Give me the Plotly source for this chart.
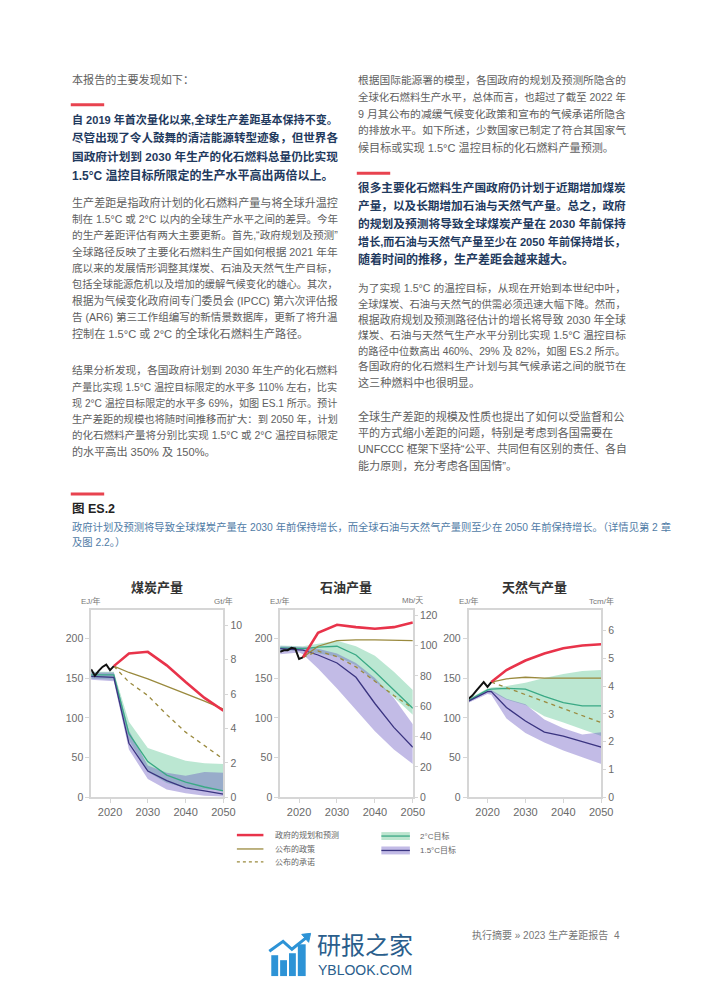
import plotly.graph_objects as go

W, H = 702, 991

# ---------------- DATA ----------------
hist_years = [2015, 2016, 2017, 2018, 2019, 2020, 2021]
plan_years = [2021, 2025, 2030, 2035, 2040, 2045, 2050]
band_years = [2015, 2020, 2021, 2025, 2030, 2035, 2040, 2045, 2050]

# Coal (EJ/yr)
coal_hist = [161, 153, 159, 164, 167, 160, 165]
coal_plans = [165, 181, 183, 166, 145, 125, 109]
coal_policy = [165, 157, 149, 140, 130, 121, 111]
coal_pledges = [165, 145, 128, 104, 82, 65, 48]
coal_2c_hi = [158, 158, 158, 95, 62, 54, 46, 43, 42]
coal_2c_lo = [149, 148, 148, 72, 32, 18, 12, 10, 9]
coal_2c_med = [154, 154, 154, 80, 45, 28, 19, 13, 8]
coal_15_hi = [157, 157, 157, 84, 40, 31, 27, 32, 31]
coal_15_lo = [148, 146, 146, 60, 23, 10, 5, 2, 1]
coal_15_med = [152, 151, 151, 68, 33, 21, 12, 8, 4]

# Oil (EJ/yr)
oil_hist = [183, 185, 185, 188, 187, 174, 176]
oil_plans = [176, 207, 217, 214, 212, 214, 220]
oil_policy = [176, 190, 197, 198, 198, 197.5, 197]
oil_pledges = [176, 184, 177, 164, 146, 128, 112]
oil_2c_hi = [191, 190, 190, 193, 197, 190, 178, 158, 135]
oil_2c_lo = [184, 185, 185, 181, 177, 166, 146, 126, 104]
oil_2c_med = [188, 187, 187, 189, 190, 179, 158, 135, 112]
oil_15_hi = [190, 189, 189, 187, 181, 169, 150, 125, 92]
oil_15_lo = [180, 182, 180, 162, 137, 110, 83, 60, 42]
oil_15_med = [187, 186, 185, 179, 169, 151, 118, 88, 63]

# Gas (EJ/yr)
gas_hist = [124, 128, 134, 139, 145, 139, 145]
gas_plans = [145, 160, 172, 181, 187.5, 191, 192.5]
gas_policy = [145, 149, 151, 150, 150, 150, 150]
gas_pledges = [145, 138, 129, 120, 111, 103, 94]
gas_2c_hi = [124, 137, 138, 140, 144, 150, 155, 159, 160]
gas_2c_lo = [120, 133, 133, 123, 116, 102, 94, 85, 77]
gas_2c_med = [122, 135, 136, 137, 136, 127, 119, 115, 115]
gas_15_hi = [122, 135, 135, 124, 117, 98, 87, 79, 82]
gas_15_lo = [119, 130, 129, 99, 81, 69, 59, 50, 42]
gas_15_med = [121, 133, 133, 113, 96, 82, 77, 70, 63]

x_ticks = [2020, 2030, 2040, 2050]
ej_ticks = [0, 50, 100, 150, 200]
coal_r_ticks = [0, 2, 4, 6, 8, 10]
oil_r_ticks = [0, 20, 40, 60, 80, 100, 120]
gas_r_ticks = [0, 1, 2, 3, 4, 5, 6]

chart_titles = ["煤炭产量", "石油产量", "天然气产量"]
left_units = ["EJ/年", "EJ/年", "EJ/年"]
right_units = ["Gt/年", "Mb/天", "Tcm/年"]
legend_labels = ["政府的规划和预测", "公布的政策", "公布的承诺", "2°C目标", "1.5°C目标"]

# ---------------- STYLE ----------------
FONT = "Liberation Sans, Noto Sans CJK SC"
RED = "#e8334a"
OLIVE = "#9a8a3e"
GREEN_FILL = "rgba(60,185,125,0.35)"
GREEN_LINE = "#3aa985"
PURPLE_FILL = "rgba(95,75,190,0.38)"
PURPLE_LINE = "#3a3480"
BODY = "#5e5e5e"
NAVY = "#1f3a5e"
AXC = "#d6d6d6"
TICKC = "#6a6a6a"

fig = go.Figure()

charts = [
    dict(x="x", y="y", y2="y2", hist=coal_hist, plans=coal_plans, policy=coal_policy, pledges=coal_pledges,
         g_hi=coal_2c_hi, g_lo=coal_2c_lo, g_med=coal_2c_med, p_hi=coal_15_hi, p_lo=coal_15_lo, p_med=coal_15_med),
    dict(x="x2", y="y3", y2="y4", hist=oil_hist, plans=oil_plans, policy=oil_policy, pledges=oil_pledges,
         g_hi=oil_2c_hi, g_lo=oil_2c_lo, g_med=oil_2c_med, p_hi=oil_15_hi, p_lo=oil_15_lo, p_med=oil_15_med),
    dict(x="x3", y="y5", y2="y6", hist=gas_hist, plans=gas_plans, policy=gas_policy, pledges=gas_pledges,
         g_hi=gas_2c_hi, g_lo=gas_2c_lo, g_med=gas_2c_med, p_hi=gas_15_hi, p_lo=gas_15_lo, p_med=gas_15_med),
]

for c in charts:
    ax = dict(xaxis=c["x"], yaxis=c["y"], hoverinfo="skip", showlegend=False)
    fig.add_trace(go.Scatter(x=band_years, y=c["g_lo"], mode="lines", line=dict(width=0, color=GREEN_FILL), **ax))
    fig.add_trace(go.Scatter(x=band_years, y=c["g_hi"], mode="lines", line=dict(width=0, color=GREEN_FILL),
                             fill="tonexty", fillcolor=GREEN_FILL, **ax))
    fig.add_trace(go.Scatter(x=band_years, y=c["p_lo"], mode="lines", line=dict(width=0, color=PURPLE_FILL), **ax))
    fig.add_trace(go.Scatter(x=band_years, y=c["p_hi"], mode="lines", line=dict(width=0, color=PURPLE_FILL),
                             fill="tonexty", fillcolor=PURPLE_FILL, **ax))
    fig.add_trace(go.Scatter(x=band_years, y=c["g_med"], mode="lines", line=dict(width=1.3, color=GREEN_LINE), **ax))
    fig.add_trace(go.Scatter(x=band_years, y=c["p_med"], mode="lines", line=dict(width=1.3, color=PURPLE_LINE), **ax))
    fig.add_trace(go.Scatter(x=plan_years, y=c["pledges"], mode="lines",
                             line=dict(width=1.3, color=OLIVE, dash="4px,4px"), **ax))
    fig.add_trace(go.Scatter(x=plan_years, y=c["policy"], mode="lines", line=dict(width=1.3, color=OLIVE), **ax))
    fig.add_trace(go.Scatter(x=plan_years, y=c["plans"], mode="lines", line=dict(width=2.6, color=RED), **ax))
    fig.add_trace(go.Scatter(x=hist_years, y=c["hist"], mode="lines", line=dict(width=2, color="#111111"), **ax))
    # empty trace so the secondary (right-hand unit) axis is drawn
    fig.add_trace(go.Scatter(x=[], y=[], xaxis=c["x"], yaxis=c["y2"], mode="lines", hoverinfo="skip",
                             showlegend=False))

# geometry (page pixels)
plot_top, plot_bot = 613, 802
x_doms = [(92.7, 227.3), (285.0, 420.0), (476.7, 611.7)]


def px(x):
    return x / W


def py(y):
    return 1 - y / H


ydom = [py(plot_bot), py(plot_top)]
common_x = dict(range=[2015, 2050], tickvals=x_ticks, showline=True, linecolor=AXC, linewidth=1.5, mirror=True,
                ticks="outside", ticklen=4, tickcolor=AXC, tickfont=dict(size=11, color=TICKC, family=FONT),
                showgrid=False, zeroline=False, fixedrange=True)
common_y = dict(tickvals=ej_ticks, showline=True, linecolor=AXC, linewidth=1.5, mirror=True,
                ticks="outside", ticklen=4, tickcolor=AXC, tickfont=dict(size=10.5, color=TICKC, family=FONT),
                showgrid=False, zeroline=False, range=[0, 236])
common_r = dict(side="right", showline=False, ticks="outside", ticklen=4, tickcolor=AXC,
                tickfont=dict(size=10.5, color=TICKC, family=FONT), showgrid=False, zeroline=False)

layout = dict(
    width=W, height=H, margin=dict(l=0, r=0, t=0, b=0), paper_bgcolor="white", plot_bgcolor="rgba(0,0,0,0)",
    font=dict(family=FONT), showlegend=False,
    xaxis=dict(domain=[px(x_doms[0][0]), px(x_doms[0][1])], anchor="y", **common_x),
    yaxis=dict(domain=ydom, anchor="x", **common_y),
    yaxis2=dict(overlaying="y", anchor="x", range=[0, 10.9], tickvals=coal_r_ticks, **common_r),
    xaxis2=dict(domain=[px(x_doms[1][0]), px(x_doms[1][1])], anchor="y3", **common_x),
    yaxis3=dict(domain=ydom, anchor="x2", **common_y),
    yaxis4=dict(overlaying="y3", anchor="x2", range=[0, 123.7], tickvals=oil_r_ticks, **common_r),
    xaxis3=dict(domain=[px(x_doms[2][0]), px(x_doms[2][1])], anchor="y5", **common_x),
    yaxis5=dict(domain=ydom, anchor="x3", **common_y),
    yaxis6=dict(overlaying="y5", anchor="x3", range=[0, 6.75], tickvals=gas_r_ticks, **common_r),
)
fig.update_layout(**layout)

ann = []
shapes = []

# approximate advance widths (em) for Liberation Sans; CJK glyphs are 1 em
LAT_W = {" ": 0.278, ".": 0.278, ",": 0.278, ":": 0.278, "°": 0.4, "%": 0.889, "(": 0.333, ")": 0.333,
         "“": 0.333, "”": 0.333, "I": 0.278, "F": 0.611}


def em_width(s):
    w = 0.0
    for ch in s:
        if ch in LAT_W:
            w += LAT_W[ch]
        elif ch.isdigit():
            w += 0.556
        elif ord(ch) > 0x2000:
            w += 1.0
        elif ch.isupper():
            w += 0.70
        else:
            w += 0.52
    return w


def txt(x, y, s, size, color, bold=False, anchor="left"):
    if bold:
        s = "<b>" + s + "</b>"
    ann.append(dict(x=px(x), y=py(y), xref="paper", yref="paper", text=s, showarrow=False,
                    xanchor=anchor, yanchor="middle", font=dict(size=size, color=color, family=FONT)))


def block(x, y0, lines, size, color, spacing, bold=False, width=266):
    for i, s in enumerate(lines):
        fit = min(size, width / em_width(s))
        txt(x, y0 + i * spacing, s, round(fit, 2), color, bold)


def rect(x0, y0, x1, y1, color):
    shapes.append(dict(type="rect", xref="paper", yref="paper", x0=px(x0), x1=px(x1), y0=py(y1), y1=py(y0),
                       fillcolor=color, line=dict(width=0), layer="above"))


def hline(x0, x1, y, color, width, dash=None):
    shapes.append(dict(type="line", xref="paper", yref="paper", x0=px(x0), x1=px(x1), y0=py(y), y1=py(y),
                       line=dict(color=color, width=width, dash=dash), layer="above"))


# ---------------- TEXT: left column ----------------
LX, RX = 71, 362
BODY_SIZE, BOLD_SIZE = 11.1, 12

txt(LX, 79, "本报告的主要发现如下：", BODY_SIZE, BODY)
rect(72, 103, 106, 106, "#e8434f")
block(LX, 119, [
    "自 2019 年首次量化以来,全球生产差距基本保持不变。",
    "尽管出现了令人鼓舞的清洁能源转型迹象，但世界各",
    "国政府计划到 2030 年生产的化石燃料总量仍比实现",
    "1.5°C 温控目标所限定的生产水平高出两倍以上。",
], BOLD_SIZE, NAVY, 18.8, bold=True)
block(LX, 203, [
    "生产差距是指政府计划的化石燃料产量与将全球升温控",
    "制在 1.5°C 或 2°C 以内的全球生产水平之间的差异。今年",
    "的生产差距评估有两大主要更新。首先,“政府规划及预测”",
    "全球路径反映了主要化石燃料生产国如何根据 2021 年年",
    "底以来的发展情形调整其煤炭、石油及天然气生产目标，",
    "包括全球能源危机以及增加的缓解气候变化的雄心。其次，",
    "根据为气候变化政府间专门委员会 (IPCC) 第六次评估报",
    "告 (AR6) 第三工作组编写的新情景数据库，更新了将升温",
    "控制在 1.5°C 或 2°C 的全球化石燃料生产路径。",
], BODY_SIZE, BODY, 16.5)
block(LX, 372, [
    "结果分析发现，各国政府计划到 2030 年生产的化石燃料",
    "产量比实现 1.5°C 温控目标限定的水平多 110% 左右，比实",
    "现 2°C 温控目标限定的水平多 69%，如图 ES.1 所示。预计",
    "生产差距的规模也将随时间推移而扩大：到 2050 年，计划",
    "的化石燃料产量将分别比实现 1.5°C 或 2°C 温控目标限定",
    "的水平高出 350% 及 150%。",
], BODY_SIZE, BODY, 16.3)

# ---------------- TEXT: right column ----------------
block(RX, 80, [
    "根据国际能源署的模型，各国政府的规划及预测所隐含的",
    "全球化石燃料生产水平，总体而言，也超过了截至 2022 年",
    "9 月其公布的减缓气候变化政策和宣布的气候承诺所隐含",
    "的排放水平。如下所述，少数国家已制定了符合其国家气",
    "候目标或实现 1.5°C 温控目标的化石燃料产量预测。",
], BODY_SIZE, BODY, 16.8, width=268)
rect(363, 172, 397, 175, "#e8434f")
block(RX, 188, [
    "很多主要化石燃料生产国政府仍计划于近期增加煤炭",
    "产量，以及长期增加石油与天然气产量。总之，政府",
    "的规划及预测将导致全球煤炭产量在 2030 年前保持",
    "增长,而石油与天然气产量至少在 2050 年前保持增长，",
    "随着时间的推移，生产差距会越来越大。",
], BOLD_SIZE, NAVY, 18.0, bold=True, width=268)
block(RX, 289, [
    "为了实现 1.5°C 的温控目标，从现在开始到本世纪中叶，",
    "全球煤炭、石油与天然气的供需必须迅速大幅下降。然而，",
    "根据政府规划及预测路径估计的增长将导致 2030 年全球",
    "煤炭、石油与天然气生产水平分别比实现 1.5°C 温控目标",
    "的路径中位数高出 460%、29% 及 82%，如图 ES.2 所示。",
    "各国政府的化石燃料生产计划与其气候承诺之间的脱节在",
    "这三种燃料中也很明显。",
], BODY_SIZE, BODY, 15.8, width=268)
block(RX, 418, [
    "全球生产差距的规模及性质也提出了如何以受监督和公",
    "平的方式缩小差距的问题，特别是考虑到各国需要在",
    "UNFCCC 框架下坚持“公平、共同但有区别的责任、各自",
    "能力原则，充分考虑各国国情”。",
], BODY_SIZE, BODY, 16.5, width=268)

# ---------------- Figure heading ----------------
rect(72, 495, 106, 498, "#e8434f")
txt(LX, 512, "图 ES.2", 12.5, "#222222", bold=True)
txt(LX, 530, "政府计划及预测将导致全球煤炭产量在 2030 年前保持增长，而全球石油与天然气产量则至少在 2050 年前保持增长。（详情见第 2 章",
    10.3, "#4f7ba6")
txt(LX, 545, "及图 2.2。）", 10.3, "#4f7ba6")

# chart titles and units
for (x0, x1), t, lu, ru in zip(x_doms, chart_titles, left_units, right_units):
    txt((x0 + x1) / 2, 591, t, 13, "#333333", bold=True, anchor="center")
    txt(x0, 604, lu, 8, "#777777", anchor="center")
    txt(x1, 604, ru, 8, "#777777", anchor="center")

# ---------------- legend ----------------
hline(241, 268, 840, RED, 2.5)
hline(241, 268, 854, OLIVE, 1.3)
hline(241, 268, 867, OLIVE, 1.3, dash="3px,3px")
txt(278, 840, legend_labels[0], 8, "#666666")
txt(278, 854, legend_labels[1], 8, "#666666")
txt(278, 867, legend_labels[2], 8, "#666666")
rect(388, 837, 417, 845, "#bde5cf")
hline(388, 417, 841, GREEN_LINE, 1.3)
rect(388, 851.5, 417, 859.5, "#c2bbe6")
hline(388, 417, 855.5, PURPLE_LINE, 1.3)
txt(425, 841, legend_labels[3], 8, "#666666")
txt(425, 855.5, legend_labels[4], 8, "#666666")

# ---------------- footer ----------------
txt(478, 941, "执行摘要 » 2023 生产差距报告", 10, "#777777")
txt(623, 941, "4", 10, "#777777")

# watermark logo
ICON = "#2d93d6"
for (a, b, top) in [(276, 283, 961), (285, 292, 966), (294, 301, 959), (303, 311, 950)]:
    rect(a, top, b, 982, ICON)
shapes.append(dict(type="path", xref="paper", yref="paper",
                   path="M {} {} L {} {} L {} {} L {} {}".format(px(274), py(957), px(288), py(947),
                                                                  px(297), py(955), px(312), py(943)),
                   line=dict(color=ICON, width=3), layer="above"))
shapes.append(dict(type="path", xref="paper", yref="paper",
                   path="M {} {} L {} {} L {} {} Z".format(px(307), py(940), px(316), py(939), px(314), py(948)),
                   fillcolor=ICON, line=dict(color=ICON, width=1), layer="above"))
txt(320, 951, "研报之家", 24, "#2a5e8c")
txt(322, 976, "YBLOOK.COM", 14, "#2a5e8c")

fig.update_layout(annotations=ann, shapes=shapes)
fig.write_html("out.html", config={"displayModeBar": False},
               post_script="document.body.style.margin='0';document.body.style.overflow='hidden';")
